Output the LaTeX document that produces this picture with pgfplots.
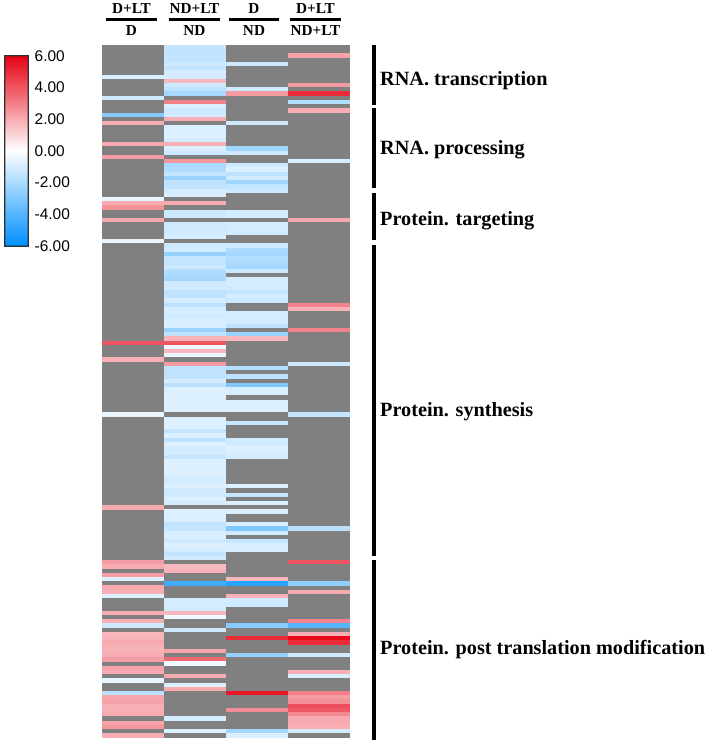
\documentclass[border=0pt]{standalone}
\usepackage{fontspec}
\setmainfont{Liberation Serif}
\newfontfamily\barfont{Liberation Sans}
\usepackage{pgfplots}
\usepackage{pgfplotstable}
\pgfplotsset{compat=1.18}
\definecolor{hmgray}{HTML}{808080}
\definecolor{barframe}{HTML}{303030}
\pgfdeclareplotmark{cell}{%
  \pgfpathrectangle{\pgfpoint{-30.9bp}{-2.13bp}}{\pgfpoint{61.8bp}{4.26bp}}%
  \pgfusepathqfill}
\pgfdeclareplotmark{barcell}{%
  \pgfpathrectangle{\pgfpoint{-11.5bp}{-1.1bp}}{\pgfpoint{23bp}{2.2bp}}%
  \pgfusepathqfill}
\pgfplotsset{hm/.style={colormap={hm}{rgb255(0cm)=(0,144,255); rgb255(1cm)=(255,255,255); rgb255(2cm)=(230,0,18)}}}
% row number from the top, log2 fold change; rows not listed are grey (no data)
\pgfplotstableread[row sep=\\]{
r v\\
7 -0.9\\ 12 -1.1\\ 16 -2.9\\ 18 1.9\\ 23 2.0\\ 26 2.3\\ 36 -0.5\\ 37 2.0\\ 38 2.6\\ 41 2.1\\ 46 -0.5\\
70 4.0\\ 74 1.9\\ 87 -0.5\\ 109 2.0\\ 122 2.3\\ 123 2.0\\ 125 2.3\\ 126 -0.8\\ 128 2.0\\ 129 1.9\\
130 -0.8\\ 134 1.9\\ 136 1.9\\ 137 -1.2\\ 139 1.7\\ 140 1.8\\ 141 2.0\\ 142 1.8\\ 143 1.8\\ 144 2.0\\
145 2.3\\ 147 2.2\\ 148 2.0\\ 150 -0.5\\ 153 -1.6\\ 154 2.1\\ 155 2.2\\ 156 1.9\\ 157 1.9\\ 158 2.0\\
160 2.2\\ 161 2.5\\ 163 1.9\\
}\colA
\pgfplotstableread[row sep=\\]{
r v\\
0 -1.4\\ 1 -1.5\\ 2 -1.4\\ 3 -1.4\\ 4 -1.2\\ 5 -1.4\\ 6 -1.0\\ 7 -1.0\\ 8 1.7\\ 9 -1.2\\ 10 -1.5\\ 11 -2.1\\
13 3.0\\ 14 -0.9\\ 15 -1.2\\ 16 -1.1\\ 17 1.9\\ 19 -0.9\\ 20 -0.8\\ 21 -0.8\\ 22 -1.0\\ 23 1.9\\ 24 -0.9\\
25 -1.2\\ 27 2.5\\ 28 -2.0\\ 29 -1.9\\ 30 -1.4\\ 31 -2.4\\ 32 -1.5\\ 33 -1.5\\ 34 -1.0\\ 35 -0.9\\ 37 2.0\\
39 -1.2\\ 40 -1.2\\ 42 -1.2\\ 43 -1.1\\ 44 -1.1\\ 45 -1.0\\ 47 -1.2\\ 48 -1.1\\ 49 -2.5\\ 50 -1.4\\ 51 -1.4\\
52 -1.2\\ 53 -1.8\\ 54 -2.0\\ 55 -2.1\\ 56 -1.2\\ 57 -1.1\\ 58 -1.5\\ 59 -1.5\\ 60 -1.0\\ 61 -1.6\\ 62 -1.0\\
63 -1.0\\ 64 -1.1\\ 65 -0.9\\ 66 -0.9\\ 67 -2.4\\ 68 -1.5\\ 69 1.8\\ 70 4.0\\ 71 -0.4\\ 72 1.7\\ 73 -0.5\\
75 2.4\\ 76 -1.5\\ 77 -1.5\\ 78 -1.5\\ 79 -1.0\\ 80 -1.6\\ 81 -0.8\\ 82 -0.8\\ 83 -0.8\\ 84 -0.8\\ 85 -0.8\\ 86 -0.8\\
88 -0.8\\ 89 -0.8\\ 90 -0.8\\ 91 -1.4\\ 92 -0.8\\ 93 -1.5\\ 94 -0.8\\ 95 -1.0\\ 96 -1.0\\ 97 -1.4\\
98 -0.8\\ 99 -0.8\\ 100 -0.8\\ 101 -0.8\\ 102 -1.0\\ 103 -1.0\\ 104 -0.8\\ 105 -1.1\\ 106 -1.1\\ 107 -0.8\\ 108 -1.0\\
110 -0.8\\ 111 -0.8\\ 112 -0.9\\ 113 -1.5\\ 114 -1.4\\ 115 -0.9\\ 116 -0.9\\ 117 -1.2\\ 118 -0.8\\ 119 -1.0\\
120 -1.4\\ 121 -1.1\\ 123 1.6\\ 124 1.8\\ 127 -4.5\\ 131 -1.0\\ 132 -1.0\\ 133 -1.0\\ 134 1.7\\ 135 -0.4\\ 138 -1.1\\
143 2.1\\ 145 3.5\\ 146 -0.4\\ 149 2.0\\ 151 -0.8\\ 152 2.0\\ 159 -1.0\\ 162 -0.8\\
}\colB
\pgfplotstableread[row sep=\\]{
r v\\
4 -1.2\\ 10 -1.1\\ 11 2.4\\ 18 -1.1\\ 24 -2.2\\ 25 -1.1\\ 28 -1.2\\ 29 -0.8\\ 30 -1.5\\ 31 -1.1\\ 32 -2.2\\ 33 -1.4\\ 34 -1.2\\
39 -1.0\\ 40 -1.0\\ 42 -1.0\\ 43 -1.0\\ 44 -1.1\\ 47 -1.2\\ 48 -2.0\\ 49 -2.1\\ 50 -1.8\\ 51 -1.9\\ 52 -2.1\\ 53 -1.2\\
55 -1.0\\ 56 -1.0\\ 57 -1.1\\ 58 -1.4\\ 59 -1.0\\ 60 -1.2\\ 63 -1.0\\ 64 -1.0\\ 65 -1.0\\ 66 -1.5\\ 68 -2.4\\ 69 1.7\\
76 -1.8\\ 78 -1.5\\ 80 -3.0\\ 81 -0.9\\ 82 -0.9\\ 84 -0.8\\ 85 -0.8\\ 86 -0.8\\ 89 -1.4\\ 93 -1.1\\ 94 -1.1\\ 95 -0.8\\ 96 -0.9\\ 97 -1.0\\
104 -0.8\\ 106 -1.4\\ 108 -0.8\\ 110 -0.9\\ 113 -0.8\\ 114 -3.0\\ 115 -1.1\\ 117 -1.4\\ 118 -0.9\\ 119 -0.9\\
126 1.7\\ 127 -5.0\\ 130 1.8\\ 131 -1.1\\ 132 -1.1\\ 137 -2.8\\ 140 5.0\\ 144 -2.5\\ 153 5.5\\ 157 2.7\\ 162 -2.1\\ 163 -0.9\\
}\colC
\pgfplotstableread[row sep=\\]{
r v\\
2 2.2\\ 9 2.4\\ 11 5.0\\ 13 -1.8\\ 15 1.9\\ 27 -0.9\\ 41 2.1\\ 61 2.9\\ 62 1.8\\ 67 2.9\\ 75 -1.2\\ 87 -1.4\\ 114 -1.6\\
122 4.0\\ 127 -2.6\\ 129 2.0\\ 136 2.9\\ 137 -4.0\\ 139 1.9\\ 140 5.8\\ 141 5.0\\ 144 -1.1\\ 148 1.9\\ 149 -0.9\\
153 3.0\\ 154 2.3\\ 155 2.6\\ 156 4.2\\ 157 3.9\\ 158 2.8\\ 159 2.0\\ 160 2.0\\ 161 1.9\\ 162 -1.0\\
}\colD
\begin{document}
\begin{tikzpicture}[x=1bp,y=1bp]
\path[use as bounding box] (0,0) rectangle (708,743);
\begin{axis}[
  at={(102bp,5.5bp)}, anchor=south west,
  scale only axis, width=248bp, height=692.5bp,
  xmin=0, xmax=4, ymin=-0.5, ymax=163.5, y dir=reverse,
  ticks=none, axis line style={draw=none},
  axis background/.style={fill=hmgray},
  hm,
  point meta min=-6, point meta max=6,
  scatter/use mapped color={draw=none, fill=mapped color},
]
\addplot[scatter, only marks, mark=cell, point meta=explicit] table[x expr=0.5, y=r, meta=v] {\colA};
\addplot[scatter, only marks, mark=cell, point meta=explicit] table[x expr=1.5, y=r, meta=v] {\colB};
\addplot[scatter, only marks, mark=cell, point meta=explicit] table[x expr=2.5, y=r, meta=v] {\colC};
\addplot[scatter, only marks, mark=cell, point meta=explicit] table[x expr=3.5, y=r, meta=v] {\colD};
\end{axis}
% colour scale
\begin{axis}[
  at={(5bp,497bp)}, anchor=south west,
  scale only axis, width=23bp, height=190bp,
  xmin=0, xmax=1, ymin=-6, ymax=6,
  xtick=\empty,
  ytick={-6,-4,-2,0,2,4,6},
  yticklabels={-6.00,-4.00,-2.00,0.00,2.00,4.00,6.00},
  yticklabel pos=right,
  yticklabel style={font=\barfont\fontsize{15.5}{15.5}\selectfont, anchor=west, inner sep=0pt, xshift=6.5bp},
  major tick length=0pt,
  clip marker paths=true,
  axis line style={draw=none},
  hm,
  point meta min=-6, point meta max=6,
  scatter/use mapped color={draw=none, fill=mapped color},
]
\addplot[scatter, only marks, mark=barcell, point meta=explicit] table[x expr=0.5, y=v, meta=v, row sep=\\] {
v\\
-6\\ -5.875\\ -5.75\\ -5.625\\ -5.5\\ -5.375\\ -5.25\\ -5.125\\ -5\\ -4.875\\ -4.75\\ -4.625\\ -4.5\\ -4.375\\ -4.25\\ -4.125\\
-4\\ -3.875\\ -3.75\\ -3.625\\ -3.5\\ -3.375\\ -3.25\\ -3.125\\ -3\\ -2.875\\ -2.75\\ -2.625\\ -2.5\\ -2.375\\ -2.25\\ -2.125\\
-2\\ -1.875\\ -1.75\\ -1.625\\ -1.5\\ -1.375\\ -1.25\\ -1.125\\ -1\\ -0.875\\ -0.75\\ -0.625\\ -0.5\\ -0.375\\ -0.25\\ -0.125\\
0\\ 0.125\\ 0.25\\ 0.375\\ 0.5\\ 0.625\\ 0.75\\ 0.875\\ 1\\ 1.125\\ 1.25\\ 1.375\\ 1.5\\ 1.625\\ 1.75\\ 1.875\\
2\\ 2.125\\ 2.25\\ 2.375\\ 2.5\\ 2.625\\ 2.75\\ 2.875\\ 3\\ 3.125\\ 3.25\\ 3.375\\ 3.5\\ 3.625\\ 3.75\\ 3.875\\
4\\ 4.125\\ 4.25\\ 4.375\\ 4.5\\ 4.625\\ 4.75\\ 4.875\\ 5\\ 5.125\\ 5.25\\ 5.375\\ 5.5\\ 5.625\\ 5.75\\ 5.875\\ 6\\
};
\end{axis}
\fill[barframe, even odd rule] (4.2,496.2) rectangle (28.8,687.8) (5.4,497.4) rectangle (27.6,686.6);
% column headers
\foreach \xa/\xb/\t/\b in {106/157/{D+LT}/D, 169/220/{ND+LT}/ND, 229/279/D/ND, 290/341/{D+LT}/{ND+LT}}{
  \fill[black] (\xa,721.8) rectangle (\xb,724.8);
  \node[font=\bfseries\fontsize{15.3}{15.3}\selectfont, inner sep=0pt] at ({(\xa+\xb)/2},734) {\t};
  \node[font=\bfseries\fontsize{15.3}{15.3}\selectfont, inner sep=0pt] at ({(\xa+\xb)/2},712.3) {\b};
}
% group brackets
\foreach \ya/\yb in {45/105, 108/188.5, 193/240, 245/556, 560/740}{
  \fill[black] (372,743-\ya) rectangle (375.6,743-\yb);
}
\foreach \y/\t in {86/{RNA. transcription}, 154.5/{RNA. processing}, 225.5/{Protein. targeting}, 417/{Protein. synthesis}, 655/{Protein. post translation modification}}{
  \node[anchor=base west, font=\bfseries\fontsize{20.3}{20.3}\selectfont, inner sep=0pt] at (380,743-\y) {\t};
}
\end{tikzpicture}
\end{document}
